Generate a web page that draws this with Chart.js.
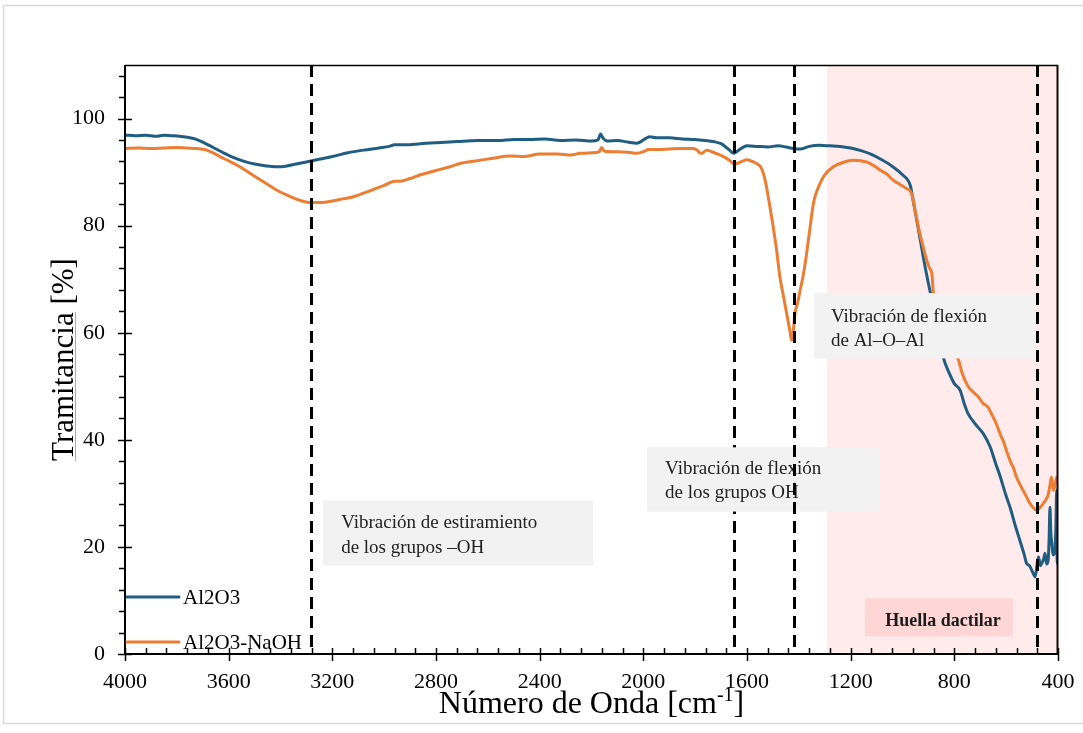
<!DOCTYPE html>
<html>
<head>
<meta charset="utf-8">
<script src="https://cdn.jsdelivr.net/npm/chart.js@4.4.1/dist/chart.umd.min.js"></script>
<style>
  html, body { margin: 0; padding: 0; background: #ffffff; }
  canvas { display: block; }
</style>
</head>
<body>
<canvas id="ftir" width="1083" height="733"></canvas>
<script>
// ---- FTIR spectra (wavenumber in cm-1, transmittance in %) ----
const wavenumberAl2O3 = [
  4000, 3960, 3920, 3880, 3850, 3820, 3790, 3760, 3730, 3700, 3660, 3620, 3580, 3540, 3500,
  3460, 3420, 3380, 3340, 3300, 3260, 3200, 3140, 3080, 3020, 2980, 2960, 2920, 2860, 2800,
  2720, 2640, 2560, 2500, 2440, 2380, 2320, 2260, 2200, 2175, 2165, 2155, 2140, 2100, 2060,
  2025, 1990, 1975, 1950, 1900, 1850, 1800, 1760, 1730, 1700, 1680, 1665, 1653, 1640, 1620,
  1600, 1560, 1520, 1480, 1450, 1420, 1395, 1360, 1320, 1280, 1240, 1200, 1160, 1120, 1080,
  1040, 1000, 970, 960, 945, 930, 920, 900, 870, 843, 820, 800, 778, 760, 747,
  720, 689, 662, 640, 624, 600, 585, 565, 547, 530, 521, 510, 501, 495, 488,
  480, 475, 468, 463, 455, 450, 444, 438, 434, 431, 428, 425, 418, 412, 408,
  405, 403, 400
];
const transAl2O3 = [
  96.9, 96.8, 96.9, 96.7, 96.9, 96.8, 96.7, 96.5, 96.2, 95.6, 94.6, 93.6, 92.7, 92.0, 91.5,
  91.2, 91.0, 91.1, 91.5, 91.9, 92.3, 92.9, 93.6, 94.1, 94.5, 94.8, 95.1, 95.1, 95.3, 95.5,
  95.7, 95.9, 95.9, 96.1, 96.1, 96.2, 95.9, 96.0, 95.8, 96.0, 97.1, 96.3, 95.8, 95.9, 95.6,
  95.4, 96.3, 96.6, 96.4, 96.4, 96.2, 96.1, 95.9, 95.7, 95.3, 94.6, 94.0, 93.5, 93.8, 94.5,
  94.9, 94.8, 94.7, 94.9, 94.7, 94.4, 94.3, 94.8, 95.0, 94.9, 94.8, 94.5, 94.0, 93.3, 92.3,
  91.1, 89.5, 87.5, 85.0, 81.0, 77.0, 74.2, 69.2, 62.5, 55.5, 52.5, 50.5, 49.3, 46.5, 44.9,
  43.0, 41.2, 38.7, 35.5, 33.3, 29.5, 27.4, 24.0, 21.2, 18.5, 16.9, 16.5, 15.6, 15.0, 14.4,
  17.0, 18.1, 16.5, 16.9, 17.8, 18.8, 16.8, 17.5, 22.0, 27.4, 23.0, 21.2, 18.5, 19.3, 24.0,
  30.6, 16.9, 18.0
];

const wavenumberNaOH = [
  4000, 3950, 3900, 3850, 3800, 3760, 3720, 3690, 3660, 3634, 3600, 3560, 3506, 3460, 3414,
  3370, 3330, 3283, 3240, 3200, 3160, 3118, 3055, 3000, 2960, 2940, 2900, 2860, 2800, 2746,
  2700, 2630, 2580, 2514, 2460, 2399, 2330, 2280, 2245, 2200, 2170, 2161, 2150, 2100, 2060,
  2025, 1995, 1982, 1940, 1900, 1850, 1808, 1790, 1781, 1770, 1756, 1740, 1710, 1680, 1665,
  1653, 1640, 1620, 1600, 1580, 1560, 1545, 1530, 1515, 1499, 1486, 1473, 1460, 1447, 1435,
  1428, 1420, 1415, 1405, 1395, 1382, 1370, 1357, 1344, 1330, 1318, 1300, 1267, 1230, 1190,
  1160, 1139, 1110, 1087, 1060, 1036, 1010, 984, 965, 950, 933, 920, 907, 895, 887,
  880, 850, 820, 790, 784, 770, 746, 720, 707, 689, 670, 655, 638, 620, 612,
  599, 580, 573, 560, 545, 535, 520, 508, 495, 482, 470, 457, 447, 437, 430,
  425, 421, 418, 412, 405, 400
];
const transNaOH = [
  94.4, 94.5, 94.4, 94.5, 94.6, 94.5, 94.4, 94.2, 93.6, 92.9, 92.1, 91.1, 89.4, 88.0, 86.6,
  85.6, 84.8, 84.3, 84.3, 84.6, 85.0, 85.4, 86.5, 87.5, 88.3, 88.3, 88.8, 89.5, 90.3, 91.0,
  91.7, 92.2, 92.6, 93.0, 92.9, 93.4, 93.4, 93.2, 93.5, 93.6, 93.8, 94.6, 93.9, 93.8, 93.7,
  93.5, 93.9, 94.2, 94.2, 94.3, 94.4, 94.4, 94.0, 93.5, 93.6, 94.1, 93.9, 93.3, 92.6, 92.1,
  91.6, 91.6, 92.0, 92.3, 92.0, 91.5, 90.8, 88.5, 84.5, 79.8, 75.5, 70.4, 67.0, 63.6, 60.5,
  58.6, 61.0, 63.6, 65.5, 67.9, 71.0, 74.8, 79.5, 84.1, 86.5, 87.9, 89.5, 91.0, 91.8, 92.2,
  92.1, 91.9, 91.2, 90.4, 89.6, 88.5, 87.7, 86.9, 86.0, 82.5, 78.5, 76.0, 73.6, 72.0, 71.1,
  67.0, 62.0, 58.5, 55.5, 54.9, 52.5, 49.9, 48.6, 48.0, 46.8, 46.1, 44.7, 43.0, 40.7, 39.9,
  38.0, 35.5, 34.9, 33.0, 31.5, 30.6, 29.2, 28.1, 27.3, 26.8, 27.3, 28.1, 28.8, 29.9, 31.8,
  33.0, 31.5, 30.6, 31.5, 33.0, 31.9
];

const seriesNames = ['Al2O3', 'Al2O3-NaOH'];
const xTickValues = [4000, 3600, 3200, 2800, 2400, 2000, 1600, 1200, 800, 400];
const yTickValues = [0, 20, 40, 60, 80, 100];

// band assignments marked with dashed guides (cm-1)
const bandPositions = [3283, 1649, 1420, 482];
// fingerprint region (cm-1)
const fingerprintRange = [1291, 400];

const BLUE = '#1F5E82';
const ORANGE = '#ED7D31';
const SERIF = '"Liberation Serif", "Times New Roman", serif';

const toPoints = (xs, ys) => xs.map((x, i) => ({ x: x, y: ys[i] }));

// annotation boxes in data coordinates: [wn left, wn right, T top, T bottom]
const notes = [
  { box: [3236, 2194, 28.7, 16.5], textX: 3166, lines: ['Vibración de estiramiento', 'de los grupos \u2013OH'], lineY: [24.4, 19.7] },
  { box: [1986, 1087, 38.6, 26.6], textX: 1916, lines: ['Vibración de flexión', 'de los grupos OH'], lineY: [34.5, 30.0] },
  { box: [1341, 489, 67.4, 55.2], textX: 1276, lines: ['Vibración de flexión', 'de Al\u2013O\u2013Al'], lineY: [62.9, 58.4] }
];

function dashedBand(ctx, xs, area, wn) {
  const px = Math.round(xs.getPixelForValue(wn)) + 0.5;
  ctx.save();
  ctx.strokeStyle = '#000';
  ctx.lineWidth = 3;
  ctx.setLineDash([12, 7]);
  ctx.beginPath();
  ctx.moveTo(px, area.top);
  ctx.lineTo(px, area.bottom);
  ctx.stroke();
  ctx.restore();
}

const decor = {
  id: 'decor',
  beforeDraw(chart) {
    const ctx = chart.ctx;
    ctx.save();
    ctx.fillStyle = '#fff';
    ctx.fillRect(0, 0, chart.width, chart.height);
    // outer frame
    ctx.strokeStyle = '#d9d9d9';
    ctx.lineWidth = 1.5;
    ctx.beginPath();
    ctx.moveTo(chart.width + 2, 5.5);
    ctx.lineTo(3.5, 5.5);
    ctx.lineTo(3.5, 723.5);
    ctx.lineTo(chart.width + 2, 723.5);
    ctx.stroke();
    ctx.restore();
  },
  beforeDatasetsDraw(chart) {
    const { ctx, chartArea: a, scales: { x, y } } = chart;
    ctx.save();
    // fingerprint region
    const x0 = x.getPixelForValue(fingerprintRange[0]);
    const x1 = x.getPixelForValue(fingerprintRange[1]);
    ctx.fillStyle = '#FFEBEB';
    ctx.fillRect(x0, a.top, x1 - x0, a.bottom - a.top);
    // its label
    const lx0 = x.getPixelForValue(1145), lx1 = x.getPixelForValue(574);
    const ly0 = y.getPixelForValue(10.4), ly1 = y.getPixelForValue(3.3);
    ctx.fillStyle = '#FFD6D6';
    ctx.fillRect(lx0, ly0, lx1 - lx0, ly1 - ly0);
    ctx.fillStyle = '#1a1a1a';
    ctx.font = 'bold 18px ' + SERIF;
    ctx.textAlign = 'center';
    ctx.textBaseline = 'middle';
    ctx.fillText('Huella dactilar', x.getPixelForValue(844), y.getPixelForValue(6.1));
    ctx.restore();
  },
  afterDatasetsDraw(chart) {
    const { ctx, chartArea: a, scales: { x, y } } = chart;
    // guides under the annotation boxes
    dashedBand(ctx, x, a, bandPositions[0]);
    dashedBand(ctx, x, a, bandPositions[1]);
    dashedBand(ctx, x, a, bandPositions[3]);

    ctx.save();
    notes.forEach(n => {
      const bx0 = x.getPixelForValue(n.box[0]), bx1 = x.getPixelForValue(n.box[1]);
      const by0 = y.getPixelForValue(n.box[2]), by1 = y.getPixelForValue(n.box[3]);
      ctx.fillStyle = '#F2F2F2';
      ctx.fillRect(bx0, by0, bx1 - bx0, by1 - by0);
      ctx.fillStyle = '#222';
      ctx.font = '19px ' + SERIF;
      ctx.textAlign = 'left';
      ctx.textBaseline = 'middle';
      n.lines.forEach((t, i) => ctx.fillText(t, x.getPixelForValue(n.textX), y.getPixelForValue(n.lineY[i])));
    });
    ctx.restore();

    // guide drawn over the OH bending box
    dashedBand(ctx, x, a, bandPositions[2]);

    // frame and axes
    ctx.save();
    ctx.strokeStyle = '#000';
    ctx.lineWidth = 1.5;
    ctx.beginPath();
    ctx.moveTo(a.left, a.top + 0.5);
    ctx.lineTo(a.right, a.top + 0.5);
    ctx.stroke();
    ctx.strokeStyle = '#1a0505';
    ctx.lineWidth = 2;
    ctx.beginPath();
    ctx.moveTo(a.right - 0.5, a.top);
    ctx.lineTo(a.right - 0.5, a.bottom);
    ctx.stroke();
    ctx.strokeStyle = '#000';
    ctx.lineWidth = 2;
    ctx.beginPath();
    ctx.moveTo(a.left, a.top);
    ctx.lineTo(a.left, a.bottom);
    ctx.lineTo(a.right, a.bottom);
    ctx.stroke();

    // tick marks
    ctx.lineWidth = 1.5;
    for (let v = 0; v <= 108; v += 4) {
      const py = Math.round(y.getPixelForValue(v)) + 0.5;
      ctx.beginPath();
      if (v % 20 === 0) { ctx.moveTo(a.left - 7, py); ctx.lineTo(a.left + 7, py); }
      else { ctx.moveTo(a.left - 6, py); ctx.lineTo(a.left, py); }
      ctx.stroke();
    }
    for (let wn = 400; wn <= 4000; wn += 80) {
      const px = Math.round(x.getPixelForValue(wn)) + 0.5;
      ctx.beginPath();
      if (wn % 400 === 0) { ctx.moveTo(px, a.bottom - 6); ctx.lineTo(px, a.bottom + 7); }
      else { ctx.moveTo(px, a.bottom - 6); ctx.lineTo(px, a.bottom); }
      ctx.stroke();
    }

    // legend inside the plot
    const legendY = [a.bottom - 57, a.bottom - 12];
    chart.data.datasets.forEach((ds, i) => {
      ctx.strokeStyle = ds.borderColor;
      ctx.lineWidth = 3;
      ctx.lineCap = 'round';
      ctx.beginPath();
      ctx.moveTo(a.left + 2, legendY[i]);
      ctx.lineTo(a.left + 54, legendY[i]);
      ctx.stroke();
      ctx.fillStyle = '#000';
      ctx.font = '21px ' + SERIF;
      ctx.textAlign = 'left';
      ctx.textBaseline = 'middle';
      ctx.fillText(ds.label, a.left + 58, legendY[i] + 1);
    });

    // axis titles
    ctx.fillStyle = '#000';
    ctx.textBaseline = 'alphabetic';
    const base = '32px ' + SERIF, sup = '20px ' + SERIF;
    const parts = [['Número de Onda [cm', base, 0], ['-1', sup, -12], [']', base, 0]];
    let total = 0;
    parts.forEach(p => { ctx.font = p[1]; total += ctx.measureText(p[0]).width; });
    let tx = (a.left + a.right) / 2 - total / 2;
    ctx.textAlign = 'left';
    parts.forEach(p => { ctx.font = p[1]; ctx.fillText(p[0], tx, 713 + p[2]); tx += ctx.measureText(p[0]).width; });

    ctx.save();
    ctx.translate(73, (a.top + a.bottom) / 2);
    ctx.rotate(-Math.PI / 2);
    ctx.font = '31px ' + SERIF;
    ctx.textAlign = 'center';
    ctx.fillText('Tramitancia [%]', 0, 0);
    // proofing underline beneath the first word
    const full = ctx.measureText('Tramitancia [%]').width;
    const word = ctx.measureText('Tramitancia').width;
    ctx.strokeStyle = 'rgba(235, 90, 90, 0.7)';
    ctx.lineWidth = 1;
    ctx.beginPath();
    ctx.moveTo(-full / 2, 2.5);
    ctx.lineTo(-full / 2 + word, 2.5);
    ctx.stroke();
    ctx.restore();

    ctx.restore();
  }
};

new Chart(document.getElementById('ftir'), {
  type: 'line',
  data: {
    datasets: [
      { label: seriesNames[0], data: toPoints(wavenumberAl2O3, transAl2O3), borderColor: BLUE,
        borderWidth: 3, pointRadius: 0, cubicInterpolationMode: 'monotone', fill: false, order: 1 },
      { label: seriesNames[1], data: toPoints(wavenumberNaOH, transNaOH), borderColor: ORANGE,
        borderWidth: 3, pointRadius: 0, cubicInterpolationMode: 'monotone', fill: false, order: 0 }
    ]
  },
  options: {
    responsive: false,
    animation: false,
    devicePixelRatio: 1,
    layout: { padding: { top: 65, right: 25, left: 0, bottom: 0 } },
    plugins: { legend: { display: false }, tooltip: { enabled: false } },
    scales: {
      x: {
        type: 'linear', reverse: true, min: 400, max: 4000,
        grid: { display: false, drawTicks: false }, border: { display: false },
        ticks: { padding: 15, color: '#000', maxRotation: 0, font: { family: SERIF, size: 22 },
                 callback: v => String(v) },
        afterBuildTicks: s => { s.ticks = xTickValues.map(v => ({ value: v })); },
        afterFit: s => { s.height = 79; s.paddingLeft = 0; s.paddingRight = 0; }
      },
      y: {
        type: 'linear', min: 0, max: 110,
        grid: { display: false, drawTicks: false }, border: { display: false },
        ticks: { padding: 20, color: '#000', font: { family: SERIF, size: 22 },
                 callback: v => String(v) },
        afterBuildTicks: s => { s.ticks = yTickValues.map(v => ({ value: v })); },
        afterFit: s => { s.width = 125; s.paddingTop = 0; s.paddingBottom = 0; }
      }
    }
  },
  plugins: [decor]
});
</script>
</body>
</html>
